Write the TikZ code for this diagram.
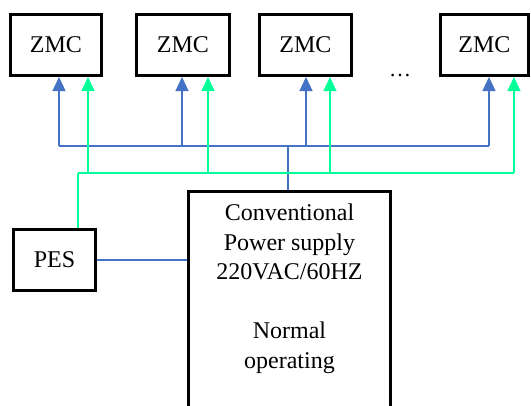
\documentclass[tikz,border=0pt]{standalone}
\usepackage{fontspec}
\setmainfont{Liberation Serif}
\usetikzlibrary{arrows.meta}
\definecolor{bl}{HTML}{4472C4}
\definecolor{gr}{HTML}{00FF99}
\begin{document}
\begin{tikzpicture}[x=1pt,y=-1pt,
  box/.style={draw=black,line width=3pt,rectangle,inner sep=0pt,font=\fontsize{24}{29.5}\selectfont,align=center},
  bline/.style={draw=bl,line width=1.2pt},
  gline/.style={draw=gr,line width=1.2pt},
  barr/.style={bline,-{Triangle[width=13pt,length=14pt]}},
  garr/.style={gline,-{Triangle[width=13pt,length=14pt]}}]
\useasboundingbox (0,0) rectangle (531,405);
\clip (0,0) rectangle (531,405);
\node[box,minimum width=91pt,minimum height=61pt] (z1) at (56,45) {ZMC};
\node[box,minimum width=93pt,minimum height=61pt] (z2) at (183,45) {ZMC};
\node[box,minimum width=92pt,minimum height=61pt] (z3) at (305.5,45) {ZMC};
\node[box,minimum width=88pt,minimum height=61pt] (z4) at (484.5,45) {ZMC};
\node[font=\fontsize{22}{26}\selectfont] (dots) at (400,76) {…};
\node[box,minimum width=82pt,minimum height=61pt] (pes) at (54.5,260) {PES};
\node[box,minimum width=202pt,minimum height=240pt,anchor=north] (main) at (289.5,189.5) {};
\node[font=\fontsize{24}{29.5}\selectfont,align=center,anchor=north,inner sep=0pt] (txt) at (289.5,204) {Conventional\\Power supply\\220VAC/60HZ\\[29.5pt]Normal\\operating};
% blue bus
\coordinate (b1) at (59,146);
\coordinate (b2) at (182,146);
\coordinate (b3) at (306,146);
\coordinate (b4) at (489,146);
\coordinate (bm) at (288,146);
\draw[bline] (b1) -- (b4);
\draw[barr] (b1) -- (b1 |- z1.south);
\draw[barr] (b2) -- (b2 |- z2.south);
\draw[barr] (b3) -- (b3 |- z3.south);
\draw[barr] (b4) -- (b4 |- z4.south);
\draw[bline] (bm) -- (bm |- main.north);
\draw[bline] (pes.east) -- (pes.east -| main.west);
% green bus
\coordinate (g0) at (78,173);
\coordinate (g1) at (88,173);
\coordinate (g2) at (208,173);
\coordinate (g3) at (330,173);
\coordinate (g4) at (514,173);
\draw[gline] (g0) -- (g4);
\draw[garr] (g1) -- (g1 |- z1.south);
\draw[garr] (g2) -- (g2 |- z2.south);
\draw[garr] (g3) -- (g3 |- z3.south);
\draw[garr] (g4) -- (g4 |- z4.south);
\draw[gline] (g0) -- (g0 |- pes.north);
\end{tikzpicture}
\end{document}
